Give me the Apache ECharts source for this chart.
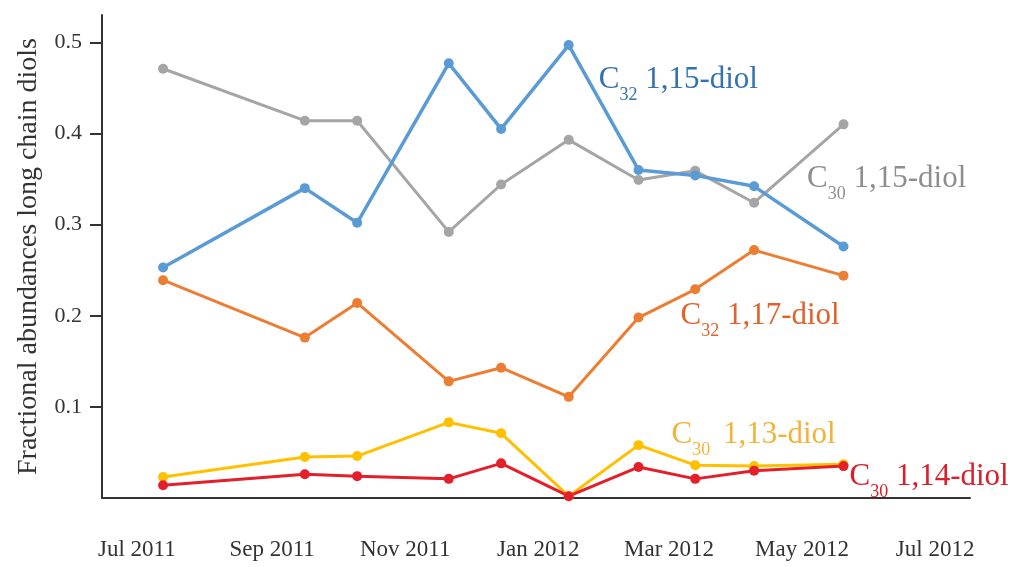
<!DOCTYPE html>
<html>
<head>
<meta charset="utf-8">
<script src="https://cdn.jsdelivr.net/npm/echarts@6/dist/echarts.min.js"></script>
<style>
  html, body { margin: 0; padding: 0; background: #ffffff; }
  #chart { width: 1016px; height: 567px; }
</style>
</head>
<body>
<div id="chart"></div>
<script>
// Sampling dates and fractional abundances of the long chain diols
const sampleDates = ['2011-07-13', '2011-09-16', '2011-10-10', '2011-11-21', '2011-12-15',
                     '2012-01-15', '2012-02-16', '2012-03-13', '2012-04-09', '2012-05-20'];
const c32_115 = [0.253, 0.340, 0.302, 0.477, 0.405, 0.497, 0.360, 0.354, 0.342, 0.276];
const c30_115 = [0.471, 0.414, 0.414, 0.292, 0.344, 0.393, 0.349, 0.359, 0.324, 0.410];
const c32_117 = [0.239, 0.176, 0.214, 0.128, 0.143, 0.111, 0.198, 0.229, 0.272, 0.244];
const c30_113 = [0.023, 0.045, 0.046, 0.083, 0.071, 0.002, 0.058, 0.036, 0.035, 0.037];
const c30_114 = [0.014, 0.026, 0.024, 0.021, 0.038, 0.002, 0.034, 0.021, 0.030, 0.035];

// Axis ticks
const monthTicks = ['2011-07-01', '2011-09-01', '2011-11-01', '2012-01-01',
                    '2012-03-01', '2012-05-01', '2012-07-01'];
const yTicks = [0.1, 0.2, 0.3, 0.4, 0.5];
const monthNames = ['Jan', 'Feb', 'Mar', 'Apr', 'May', 'Jun', 'Jul', 'Aug', 'Sep', 'Oct', 'Nov', 'Dec'];

const SERIF = '"Liberation Serif", "Times New Roman", serif';
const AXIS_COLOR = '#333333';

// Dates are kept as UTC timestamps on a plain value axis
function ts(s) {
  const [y, m, d] = s.split('-').map(Number);
  return Date.UTC(y, m - 1, d);
}

// Series name with a subscripted carbon number, e.g. C32 1,15-diol
function seriesLabel(sub, name, color, offset, gap) {
  return {
    show: true,
    position: 'right',
    distance: 0,
    offset: offset,
    formatter: '{c|C}{s|' + sub + '}{n|' + name + '}',
    rich: {
      c: { fontFamily: SERIF, fontSize: 31, lineHeight: 31, color: color,
           verticalAlign: 'bottom', padding: [0, 0, 9, 0] },
      s: { fontFamily: SERIF, fontSize: 18, lineHeight: 18, color: color,
           verticalAlign: 'bottom' },
      n: { fontFamily: SERIF, fontSize: 31, lineHeight: 31, color: color,
           verticalAlign: 'bottom', padding: [0, 0, 9, gap || 0] }
    }
  };
}

function buildData(values, tagIndex, tag) {
  return values.map((v, i) => {
    const point = [ts(sampleDates[i]), v];
    return i === tagIndex ? { value: point, label: tag } : point;
  });
}

function lineSeries(name, values, color, width, symbolSize, tagIndex, tag) {
  return {
    name: name,
    type: 'line',
    data: buildData(values, tagIndex, tag),
    symbol: 'circle',
    symbolSize: symbolSize,
    showSymbol: true,
    lineStyle: { color: color, width: width },
    itemStyle: { color: color },
    label: { show: false },
    emphasis: { disabled: true },
    animation: false
  };
}

const chart = echarts.init(document.getElementById('chart'), null, { renderer: 'canvas' });

chart.setOption({
  backgroundColor: '#ffffff',
  animation: false,
  grid: { left: 102, right: 46, top: 15, bottom: 69, containLabel: false, outerBoundsMode: 'none' },
  xAxis: {
    type: 'value',
    min: ts('2011-06-15'),
    max: ts('2012-07-17'),
    axisLine: { show: true, onZero: false, lineStyle: { color: AXIS_COLOR, width: 2 } },
    axisTick: { show: false },
    splitLine: { show: false },
    axisLabel: {
      customValues: monthTicks.map(ts),
      margin: 40,
      fontFamily: SERIF,
      fontSize: 23,
      color: AXIS_COLOR,
      formatter: function (value) {
        const d = new Date(value);
        return monthNames[d.getUTCMonth()] + ' ' + d.getUTCFullYear();
      }
    }
  },
  yAxis: {
    type: 'value',
    min: 0,
    max: 0.53,
    name: 'Fractional abundances long chain diols',
    nameLocation: 'middle',
    nameGap: 59,
    nameTextStyle: { fontFamily: SERIF, fontSize: 28, color: AXIS_COLOR },
    axisLine: { show: true, lineStyle: { color: AXIS_COLOR, width: 2 } },
    axisTick: { show: true, customValues: yTicks, length: 12, lineStyle: { color: AXIS_COLOR, width: 2 } },
    splitLine: { show: false },
    axisLabel: {
      customValues: yTicks,
      margin: 20,
      fontFamily: SERIF,
      fontSize: 22,
      color: AXIS_COLOR,
      formatter: function (v) { return v.toFixed(1); }
    }
  },
  tooltip: { show: false },
  series: [
    lineSeries('C30 1,15-diol', c30_115, '#a5a5a5', 3, 10, 8,
      seriesLabel('30', ' 1,15-diol', '#8e8e8e', [48, -15])),
    lineSeries('C32 1,17-diol', c32_117, '#ed7d31', 3, 10, 6,
      seriesLabel('32', ' 1,17-diol', '#e0622d', [37, 7])),
    lineSeries('C30 1,13-diol', c30_113, '#ffc000', 3, 10, 6,
      seriesLabel('30', ' 1,13-diol', '#f0b43a', [28, -1], 5)),
    lineSeries('C30 1,14-diol', c30_114, '#e3202a', 3, 10, 9,
      seriesLabel('30', ' 1,14-diol', '#d81f2a', [1, 20])),
    lineSeries('C32 1,15-diol', c32_115, '#5b9bd5', 3.5, 10, 5,
      seriesLabel('32', ' 1,15-diol', '#3472b0', [25, 44]))
  ]
});
</script>
</body>
</html>
